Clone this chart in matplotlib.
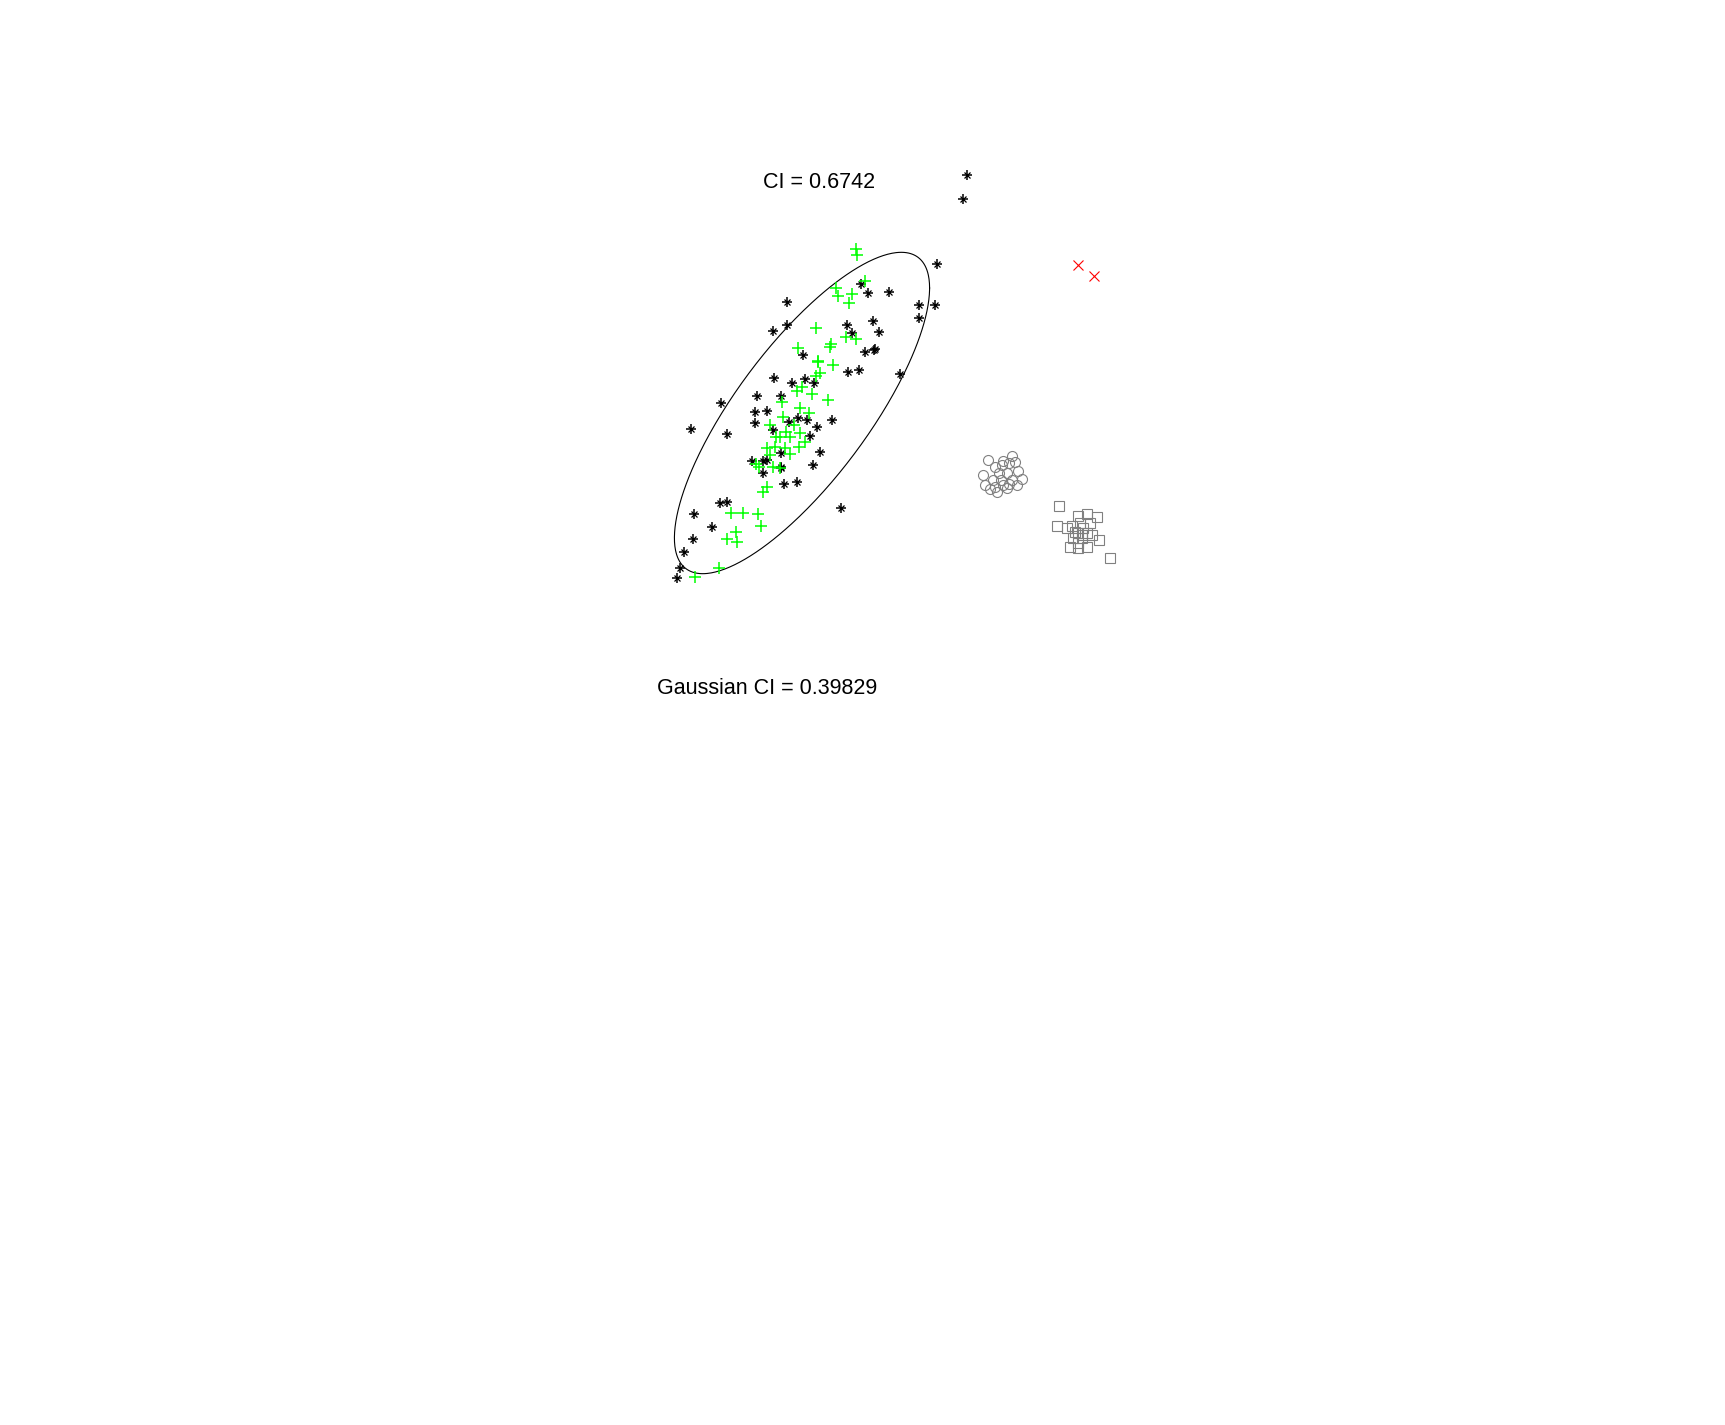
import numpy as np
import matplotlib
matplotlib.use("Agg")
import matplotlib.pyplot as plt

# ---- data ----
black_x = [2.67, 2.63, 2.37, 1.61, 1.68, 1.89, 0.87, 2.19, 2.35, 2.19, 0.87, 0.73, 1.47, 1.73,
           1.52, 1.79, 1.03, 1.65, 1.75, 1.74, 1.48, 1.59, 2.00, 0.74, 0.92, 1.05, 1.14, 0.21,
           0.57, 0.81, 0.55, 0.67, 0.98, 0.89, 1.32, 1.07, -0.09, 0.27, 0.55, 1.17, 0.73, 1.10,
           1.20, 0.81, 0.52, 0.63, 0.67, 0.81, 0.81, 1.13, 0.63, 0.84, 0.97, 0.20, 0.27, -0.06,
           1.41, 0.12, -0.07, -0.16, -0.20, -0.23]
black_y = [4.25, 4.01, 3.36, 3.16, 3.07, 3.08, 2.98, 2.95, 2.95, 2.82, 2.75, 2.69, 2.75, 2.79,
           2.67, 2.68, 2.45, 2.48, 2.51, 2.50, 2.28, 2.30, 2.26, 2.22, 2.17, 2.21, 2.17, 1.97,
           2.04, 2.04, 1.88, 1.89, 1.82, 1.78, 1.80, 1.80, 1.71, 1.66, 1.77, 1.73, 1.70, 1.64,
           1.48, 1.47, 1.39, 1.39, 1.40, 1.33, 1.32, 1.35, 1.27, 1.16, 1.18, 0.97, 0.98, 0.86,
           0.92, 0.73, 0.61, 0.48, 0.32, 0.22]

green_x = [1.56, 1.57, 1.65, 1.36, 1.38, 1.52, 1.49, 1.16, 1.46, 1.56, 1.31, 1.30, 0.98, 1.18,
           1.18, 1.33, 1.20, 1.16, 1.02, 0.97, 1.12, 1.28, 0.82, 1.00, 1.09, 0.83, 0.70, 0.94,
           0.86, 1.00, 0.76, 0.80, 0.90, 1.05, 0.67, 0.99, 0.85, 0.75, 0.90, 0.70, 0.56, 0.59,
           0.73, 0.80, 0.67, 0.63, 0.31, 0.43, 0.58, 0.61, 0.36, 0.27, 0.37, 0.19, -0.05]
green_y = [3.51, 3.45, 3.19, 3.12, 3.04, 3.06, 2.97, 2.72, 2.63, 2.61, 2.56, 2.53, 2.52, 2.39,
           2.38, 2.35, 2.27, 2.24, 2.13, 2.09, 2.06, 2.00, 1.98, 1.92, 1.87, 1.83, 1.75, 1.75,
           1.68, 1.67, 1.63, 1.63, 1.63, 1.58, 1.52, 1.53, 1.52, 1.53, 1.46, 1.45, 1.36, 1.33,
           1.33, 1.32, 1.13, 1.08, 0.87, 0.87, 0.86, 0.74, 0.68, 0.61, 0.58, 0.32, 0.23]

red_x = [3.78, 3.94]
red_y = [3.35, 3.24]

circ_x = [2.88, 3.12, 3.03, 3.02, 3.15, 3.18, 3.22, 2.83, 2.99, 3.07, 2.85, 2.93, 3.01, 3.12,
          3.09, 3.17, 2.90, 2.97, 3.07, 2.95, 3.03, 2.95, 3.09]
circ_y = [1.40, 1.44, 1.39, 1.35, 1.38, 1.29, 1.21, 1.25, 1.27, 1.27, 1.15, 1.20, 1.20, 1.20,
          1.16, 1.15, 1.11, 1.08, 1.12, 1.13, 1.15, 1.33, 1.37]

sq_x = [3.59, 3.57, 3.67, 3.72, 3.78, 3.87, 3.97, 3.90, 3.80, 3.83, 3.75, 3.87, 3.92, 3.99,
        3.73, 3.82, 3.78, 3.70, 3.87, 3.78, 4.10, 3.82, 3.78]
sq_y = [0.94, 0.74, 0.72, 0.74, 0.84, 0.86, 0.83, 0.77, 0.77, 0.72, 0.68, 0.67, 0.65, 0.60,
        0.62, 0.62, 0.57, 0.53, 0.53, 0.52, 0.42, 0.65, 0.67]

ell_center = [1.02, 1.87]
ell_cov = [[1.628, 1.595], [1.595, 2.582]]

ci_text = "CI = 0.6742"
gauss_text = "Gaussian CI = 0.39829"

# ---- figure ----
plt.rcParams['font.family'] = ['Liberation Sans', 'DejaVu Sans']
fig = plt.figure(figsize=(17.25, 14.25), dpi=100)
ax = fig.add_axes([0, 0, 1, 1])
ax.set_xlim(-7.0, 10.25)
ax.set_ylim(-8.25, 6.0)
ax.axis('off')

# ellipse
t = np.linspace(0, 2 * np.pi, 400)
L = np.linalg.cholesky(np.array(ell_cov))
pts = L @ np.vstack([np.cos(t), np.sin(t)])
ax.plot(pts[0] + ell_center[0], pts[1] + ell_center[1], color='black', lw=0.8)

# black asterisks (MATLAB-style '*': plus + short diagonals + centre dot)
ax.plot(black_x, black_y, linestyle='none', marker='+', ms=7.2, mew=1.1, color='black')
ax.plot(black_x, black_y, linestyle='none', marker='x', ms=3.8, mew=0.9, color='black')
ax.plot(black_x, black_y, linestyle='none', marker='o', ms=2.2, mew=0, color='black')
# green plus
ax.plot(green_x, green_y, linestyle='none', marker='+', ms=9.0, mew=1.1, color='#00ff00')
# red x
ax.plot(red_x, red_y, linestyle='none', marker='x', ms=6.5, mew=0.8, color='#ff0000')
# gray circles and squares
ax.plot(circ_x, circ_y, linestyle='none', marker='o', ms=7.2, mew=0.8,
        markerfacecolor='none', markeredgecolor='#808080')
ax.plot(sq_x, sq_y, linestyle='none', marker='s', ms=7.2, mew=0.8,
        markerfacecolor='none', markeredgecolor='#808080')

ax.text(1.19, 4.117, ci_text, ha='center', va='baseline', fontsize=15.5)
ax.text(0.67, -0.943, gauss_text, ha='center', va='baseline', fontsize=15.5)

fig.savefig('out.png', dpi=100)
